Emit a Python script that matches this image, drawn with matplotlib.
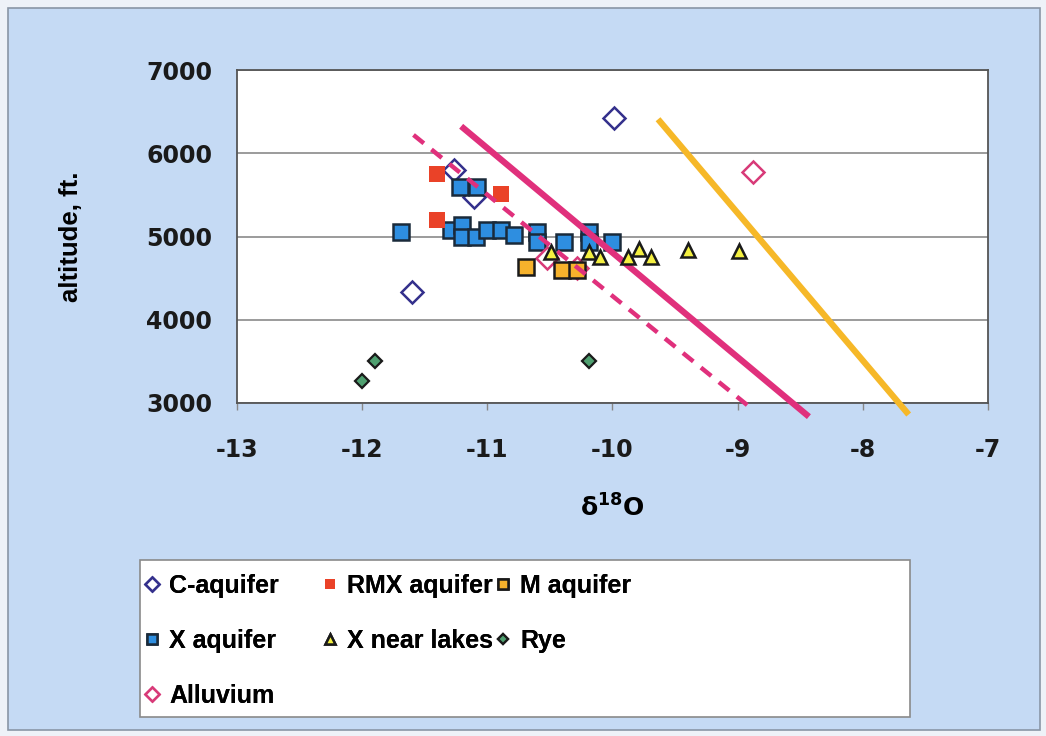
import matplotlib.pyplot as plt
from matplotlib.patches import Rectangle

# -----------------------------------------------------------------------------------------
# data
c_x = [-9.99, -11.27, -11.11, -11.60]
c_y = [6420, 5800, 5480, 4330]

rmx_x = [-11.40, -10.89, -11.40]
rmx_y = [5750, 5510, 5200]

m_x = [-10.69, -10.40, -10.28]
m_y = [4630, 4595, 4595]

xaq_x = [-11.69, -11.22, -11.08, -11.29, -11.20, -11.20, -11.09, -11.00, -10.89,
         -10.79, -10.60, -10.60, -10.39, -10.19, -10.19, -10.00]
xaq_y = [5055, 5600, 5600, 5075, 5135, 4995, 4995, 5075, 5075,
         5015, 5060, 4935, 4935, 5060, 4930, 4935]

lake_x = [-10.49, -10.19, -10.10, -9.88, -9.79, -9.69, -9.40, -8.99]
lake_y = [4815, 4815, 4755, 4755, 4855, 4755, 4835, 4830]

rye_x = [-12.00, -11.90, -10.19]
rye_y = [3270, 3510, 3510]

all_x = [-8.88, -10.52, -10.28]
all_y = [5770, 4740, 4620]

# trend lines (end points)
dash_x = [-11.59, -8.87]
dash_y = [6220, 2910]
pink_x = [-11.19, -8.45]
pink_y = [6300, 2860]
orange_x = [-9.62, -7.65]
orange_y = [6380, 2890]

# -----------------------------------------------------------------------------------------
plt.rcParams['font.family'] = ['Liberation Sans', 'DejaVu Sans']
plt.rcParams['font.weight'] = 'bold'
plt.rcParams['mathtext.fontset'] = 'custom'
plt.rcParams['mathtext.rm'] = 'DejaVu Sans:bold'
plt.rcParams['mathtext.default'] = 'rm'

W, H = 1046, 736
bg = '#c5daf4'
fig = plt.figure(figsize=(W / 100, H / 100), dpi=100)
fig.patch.set_facecolor('#eef2f8')
fig.patches.append(Rectangle((8 / W, 6 / H), 1032 / W, 722 / H,
                             transform=fig.transFigure, facecolor=bg,
                             edgecolor='#8a96a6', linewidth=1.2, zorder=-1))
# legend box
fig.patches.append(Rectangle((140 / W, 1 - 717 / H), 770 / W, 157 / H,
                             transform=fig.transFigure, facecolor='white',
                             edgecolor='#8a8a8a', linewidth=1.2, zorder=0))

ax = fig.add_axes([237 / W, 1 - 403 / H, 751 / W, 333 / H])
ax.set_facecolor('white')

ax.plot(dash_x, dash_y, color='#e0307c', lw=3.2, ls=(0, (3, 2.2)), clip_on=False, zorder=4)
ax.plot(pink_x, pink_y, color='#e0307c', lw=4.5, clip_on=False, zorder=4)
ax.plot(orange_x, orange_y, color='#f6b828', lw=4.5, clip_on=False, zorder=4)

h_c, = ax.plot(c_x, c_y, 'D', ms=11, mfc='white', mec='#34308c', mew=1.8, ls='none',
               label='C-aquifer', zorder=3)
h_x, = ax.plot(xaq_x, xaq_y, 's', ms=11, mfc='#2e8ee0', mec='#1a2a3a', mew=1.8, ls='none',
               label='X aquifer', zorder=3)
h_al, = ax.plot(all_x, all_y, 'D', ms=11, mfc='white', mec='#d83a78', mew=1.8, ls='none',
                label='Alluvium', zorder=3)
h_r, = ax.plot(rmx_x, rmx_y, 's', ms=12, mfc='#ea4228', mec='#ea4228', mew=0, ls='none',
               label='RMX aquifer', zorder=3)
h_l, = ax.plot(lake_x, lake_y, '^', ms=10, mfc='#f4f040', mec='#1a1a1a', mew=1.8, ls='none',
               label='X near lakes', zorder=5)
h_m, = ax.plot(m_x, m_y, 's', ms=11, mfc='#f6b22c', mec='#1a1a1a', mew=1.8, ls='none',
               label='M aquifer', zorder=3)
h_rye, = ax.plot(rye_x, rye_y, 'D', ms=7.5, mfc='#4fa070', mec='#1a1a1a', mew=1.6, ls='none',
                 label='Rye', zorder=3)

ax.set_xlim(-13, -7)
ax.set_ylim(3000, 7000)
ax.set_xticks([-13, -12, -11, -10, -9, -8, -7])
ax.set_yticks([3000, 4000, 5000, 6000, 7000])
ax.set_xticklabels(['-13', '-12', '-11', '-10', '-9', '-8', '-7'])
ax.grid(axis='y', color='#8a8a8a', lw=1.2)
ax.set_axisbelow(True)
for s in ax.spines.values():
    s.set_color('#555555')
    s.set_linewidth(1.3)
ax.tick_params(axis='x', direction='out', length=5, width=1, color='#888888',
               pad=20, labelsize=17)
ax.tick_params(axis='y', length=0, pad=18, labelsize=17)
for lab in ax.get_xticklabels() + ax.get_yticklabels():
    lab.set_family(['DejaVu Sans'])
    lab.set_color('#1a1a1a')

ax.set_ylabel('altitude, ft.', fontsize=18.5, fontweight='bold')
ax.yaxis.set_label_coords(-0.205, 0.5)
ax.set_xlabel('δ$^{18}$O', fontsize=18, fontweight='bold', family=['DejaVu Sans'])
ax.xaxis.set_label_coords(0.5, -0.275)

# legend: three columns placed like the original
cols = [([h_c, h_x, h_al], 143), ([h_r, h_l], 321), ([h_m, h_rye], 494)]
for handles, xpos in cols:
    leg = fig.legend(handles=handles, loc='upper left',
                     bbox_to_anchor=(xpos / W, 1 - 574 / H),
                     prop={'family': ['Liberation Sans'], 'weight': 'bold', 'size': 18},
                     frameon=False, borderpad=0, borderaxespad=0,
                     handlelength=0.7, handletextpad=0.35,
                     labelspacing=1.24, markerscale=0.65)
    fig.add_artist(leg)

fig.savefig('out.png', dpi=100, facecolor=fig.get_facecolor())
